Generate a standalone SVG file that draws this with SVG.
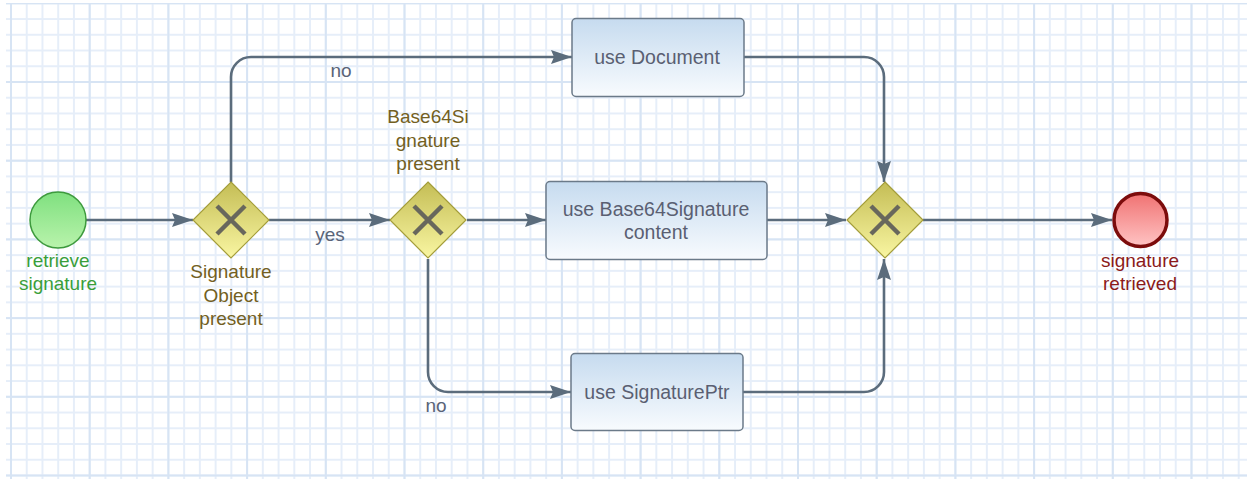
<svg xmlns="http://www.w3.org/2000/svg" width="1247" height="482" viewBox="0 0 1247 482">
<defs>
<pattern id="gMinor" patternUnits="userSpaceOnUse" x="10" y="2.3" width="15.74" height="15.74">
<rect x="0" y="0" width="2" height="15.74" fill="#e6eef9"/>
<rect x="0" y="0" width="15.74" height="2" fill="#e6eef9"/>
</pattern>
<pattern id="gMajor" patternUnits="userSpaceOnUse" x="10" y="2.3" width="78.7" height="78.7">
<rect x="0" y="0" width="2" height="78.7" fill="#d7e4f4"/>
<rect x="0" y="0" width="78.7" height="2" fill="#d7e4f4"/>
</pattern>
<linearGradient id="taskFill" x1="0" y1="0" x2="0" y2="1">
<stop offset="0" stop-color="#c6dbef"/>
<stop offset="1" stop-color="#f8fbfe"/>
</linearGradient>
<linearGradient id="gwFill" x1="0" y1="0" x2="0" y2="1">
<stop offset="0" stop-color="#c4bd55"/>
<stop offset="1" stop-color="#f9f6a2"/>
</linearGradient>
<linearGradient id="startFill" x1="0" y1="0" x2="0" y2="1">
<stop offset="0" stop-color="#7fe07f"/>
<stop offset="1" stop-color="#b9f3ac"/>
</linearGradient>
<linearGradient id="endFill" x1="0" y1="0" x2="0" y2="1">
<stop offset="0" stop-color="#f07272"/>
<stop offset="1" stop-color="#ffc4c4"/>
</linearGradient>
<marker id="arrow" markerUnits="userSpaceOnUse" markerWidth="22" markerHeight="16" refX="21" refY="7" orient="auto">
<path d="M0,0 L21,7 L0,14 L3,7 z" fill="#5b6c7c"/>
</marker>
<g id="gwShape">
<path d="M0,-38 L38,0 L0,38 L-38,0 z" fill="url(#gwFill)" stroke="#a49d3a" stroke-width="1.2"/>
<path d="M-14,-14 L14,14 M14,-14 L-14,14" stroke="#68675c" stroke-width="4.5" stroke-linecap="butt"/>
</g>
</defs>
<style>
.conn{fill:none;stroke:#5b6c7c;stroke-width:2.6;marker-end:url(#arrow)}
.task{fill:url(#taskFill);stroke:#6b7a89;stroke-width:1.5}
.ttext{font-family:"Liberation Sans",Arial,sans-serif;font-size:19.5px;fill:#5a5f72;text-anchor:middle}
.lbl{font-family:"Liberation Sans",Arial,sans-serif;font-size:19px;text-anchor:middle}
.flow{font-family:"Liberation Sans",Arial,sans-serif;font-size:19px;fill:#5a6478;text-anchor:middle}
</style>
<rect x="0" y="0" width="1247" height="482" fill="#ffffff"/>
<rect x="6" y="3" width="1241" height="476" fill="url(#gMinor)"/>
<rect x="6" y="3" width="1241" height="476" fill="url(#gMajor)"/>

<g id="connectors">
<path class="conn" d="M86,220 H193"/>
<path class="conn" d="M269,220 H390"/>
<path class="conn" d="M231,182 V77 A20,20 0 0 1 251,57 H572"/>
<path class="conn" d="M467,220 H546"/>
<path class="conn" d="M428,259 V372 A20,20 0 0 0 448,392 H571"/>
<path class="conn" d="M744,57 H864 A20,20 0 0 1 884,77 V182"/>
<path class="conn" d="M767,220 H846"/>
<path class="conn" d="M743,392 H864 A20,20 0 0 0 884,372 V259"/>
<path class="conn" d="M923,220 H1112"/>
<text class="flow" x="341" y="77">no</text>
<text class="flow" x="330" y="241">yes</text>
<text class="flow" x="436" y="412">no</text>
</g>

<g id="start">
<circle cx="58" cy="220" r="28" fill="url(#startFill)" stroke="#3d9a3d" stroke-width="1.5"/>
<text class="lbl" fill="#3a9e3a" x="58" y="267">retrieve</text>
<text class="lbl" fill="#3a9e3a" x="58" y="290">signature</text>
</g>

<g id="gw1">
<use href="#gwShape" x="231" y="220"/>
<text class="lbl" fill="#735f22" x="231" y="278">Signature</text>
<text class="lbl" fill="#735f22" x="231" y="302">Object</text>
<text class="lbl" fill="#735f22" x="231" y="325">present</text>
</g>

<g id="gw2">
<use href="#gwShape" x="428" y="220"/>
<text class="lbl" fill="#735f22" x="428" y="123">Base64Si</text>
<text class="lbl" fill="#735f22" x="428" y="147">gnature</text>
<text class="lbl" fill="#735f22" x="428" y="170">present</text>
</g>

<g id="gw3">
<use href="#gwShape" x="885" y="220"/>
</g>

<g id="taskDocument">
<rect class="task" x="572" y="18.5" width="172" height="78" rx="4"/>
<text class="ttext" x="657" y="64">use Document</text>
</g>

<g id="taskBase64">
<rect class="task" x="546" y="181.5" width="221" height="78" rx="4"/>
<text class="ttext" x="656" y="216">use Base64Signature</text>
<text class="ttext" x="656" y="239">content</text>
</g>

<g id="taskSignaturePtr">
<rect class="task" x="571" y="353.5" width="172" height="77" rx="4"/>
<text class="ttext" x="657" y="399">use SignaturePtr</text>
</g>

<g id="end">
<circle cx="1140.5" cy="220" r="26.5" fill="url(#endFill)" stroke="#7c0c0c" stroke-width="3.5"/>
<text class="lbl" fill="#8b1a1a" x="1140" y="267">signature</text>
<text class="lbl" fill="#8b1a1a" x="1140" y="290">retrieved</text>
</g>
</svg>
